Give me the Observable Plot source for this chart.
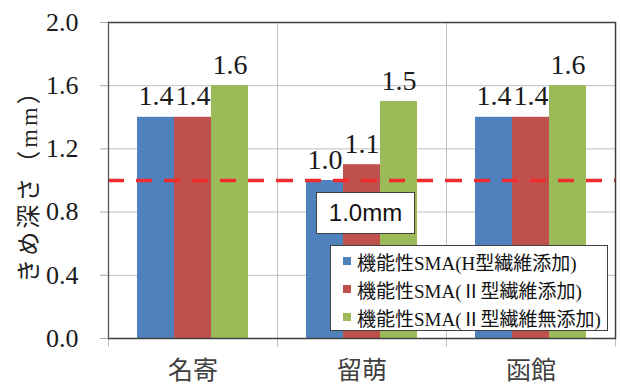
<!DOCTYPE html>
<html>
<head>
<meta charset="utf-8">
<script src="https://cdn.jsdelivr.net/npm/d3@7"></script>
<script src="https://cdn.jsdelivr.net/npm/@observablehq/plot@0.6"></script>
<style>
  body { margin: 0; background: #fff; }
  #chart { position: relative; width: 620px; height: 387px; }
  #chart svg { display: block; }
  .legend {
    position: absolute; left: 330px; top: 245px; width: 278px; height: 86px;
    box-sizing: border-box; border: 1px solid #404040; background: #fff;
    padding-top: 1px;
    font: 19px "Liberation Serif", "Noto Sans CJK JP", serif; color: #111;
  }
  .legend .row { display: flex; align-items: center; height: 28px; padding-left: 12px; white-space: nowrap; }
  .legend .sw { width: 8px; height: 8px; margin-right: 6px; flex: none; }
  .callout {
    position: absolute; left: 316px; top: 192px; width: 99px; height: 42px;
    box-sizing: border-box; border: 1px solid #404040; background: #fff;
    display: flex; align-items: center; justify-content: center;
    font: 24px "Liberation Sans", sans-serif; color: #111;
  }
</style>
</head>
<body>
<div id="chart"></div>
<script>
// Sampling sites along the x axis
const categories = ["名寄", "留萌", "函館"];
// Mixture types (series)
const seriesNames = [
  "機能性SMA(H型繊維添加)",
  "機能性SMA(Ⅱ型繊維添加)",
  "機能性SMA(Ⅱ型繊維無添加)"
];
const seriesColors = ["#4F81BD", "#C0504D", "#9BBB59"];
// Texture depth (mm) per site, one array per series
const valuesH = [1.4, 1.0, 1.4];
const valuesII = [1.4, 1.1, 1.4];
const valuesIINone = [1.6, 1.5, 1.6];
// Y axis ticks
const yTicks = [0, 0.4, 0.8, 1.2, 1.6, 2.0];
// Reference depth line
const thresholdValue = 1.0;
const thresholdLabel = "1.0mm";
const yLabel = "きめ深さ（mm）";

const seriesValues = [valuesH, valuesII, valuesIINone];
const rows = categories.flatMap((c, i) =>
  seriesNames.map((s, j) => ({category: c, series: s, value: seriesValues[j][i]}))
);

const gridColor = "#bfbfbf";
const axisColor = "#404040";
const serif = "Liberation Serif";

const plot = Plot.plot({
  width: 620,
  height: 387,
  marginLeft: 107,
  marginRight: 4,
  marginTop: 22,
  marginBottom: 49,
  style: {background: "#fff", color: "#1a1a1a"},
  fx: {domain: categories, padding: 0, label: null, axis: null},
  x: {domain: seriesNames, paddingInner: 0, paddingOuter: 0.78, axis: null},
  y: {domain: [0, 2], axis: null},
  color: {domain: seriesNames, range: seriesColors},
  marks: [
    Plot.gridY(yTicks.slice(1, -1), {stroke: gridColor, strokeOpacity: 1}),
    Plot.frame({anchor: "left", stroke: gridColor, insetBottom: -8}),
    Plot.frame({anchor: "right", stroke: gridColor, insetBottom: -8, facetAnchor: "right"}),
    Plot.barY(rows, {fx: "category", x: "series", y: "value", fill: "series"}),
    Plot.ruleY([thresholdValue], {stroke: "#ef2b2b", strokeWidth: 3.5, strokeDasharray: "16,12"}),
    Plot.text(rows, {
      fx: "category", x: "series", y: "value",
      text: (d) => d.value.toFixed(1),
      dy: -12, lineAnchor: "bottom",
      fontSize: 28, fontFamily: serif, fill: "#1a1a1a"
    }),
    Plot.ruleY([0, 2], {stroke: axisColor, strokeWidth: 1.3}),
    Plot.frame({anchor: "left", stroke: "#555", strokeWidth: 1.3, facetAnchor: "left"}),
    Plot.frame({anchor: "right", stroke: axisColor, strokeWidth: 1.5, facetAnchor: "right"}),
    Plot.axisY(yTicks, {
      tickSize: 8, tickPadding: 22, stroke: "#a6a6a6",
      fontSize: 26, fontFamily: serif,
      tickFormat: (d) => d.toFixed(1), label: null
    }),
    Plot.axisFx({
      anchor: "bottom", tickSize: 0, tickPadding: 23,
      fontSize: 25, fontFamily: "Noto Sans CJK JP", fill: "#404040", label: null
    })
  ]
});

const chart = document.getElementById("chart");
chart.appendChild(plot);

// Rotated y-axis title
d3.select(plot).append("text")
  .attr("transform", "translate(29,180) rotate(-90)")
  .attr("text-anchor", "middle")
  .attr("dominant-baseline", "central")
  .attr("font-family", `"${serif}", "Noto Sans CJK JP"`)
  .attr("font-size", 24)
  .attr("letter-spacing", "3px")
  .attr("fill", "#222")
  .text(yLabel);

// Reference-line callout
const callout = document.createElement("div");
callout.className = "callout";
callout.textContent = thresholdLabel;
chart.appendChild(callout);

// Series legend
const legend = document.createElement("div");
legend.className = "legend";
seriesNames.forEach((name) => {
  const row = document.createElement("div");
  row.className = "row";
  const sw = document.createElement("span");
  sw.className = "sw";
  sw.style.background = plot.scale("color").apply(name);
  const label = document.createElement("span");
  label.textContent = name;
  row.append(sw, label);
  legend.appendChild(row);
});
chart.appendChild(legend);
</script>
</body>
</html>
